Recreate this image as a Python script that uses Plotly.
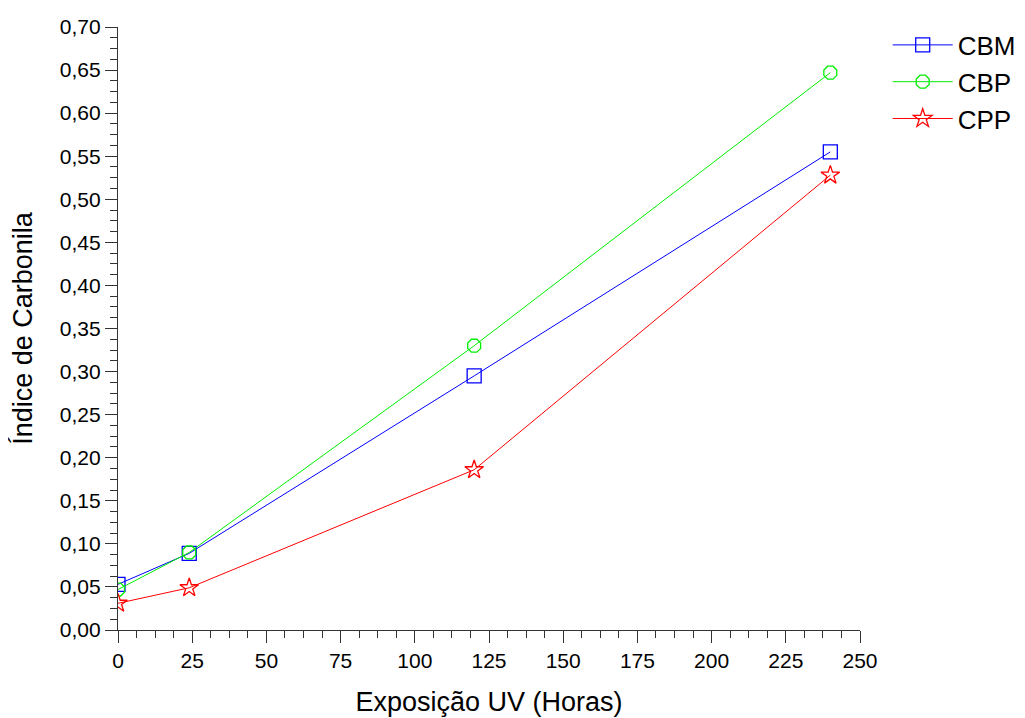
import plotly.graph_objects as go

hours = [0, 24, 120, 240]
cbm = [0.053, 0.089, 0.295, 0.555]
cbp = [0.047, 0.090, 0.330, 0.647]
cpp = [0.031, 0.049, 0.186, 0.528]

series = [
    ("CBM", cbm, "#0000ff", "square-open"),
    ("CBP", cbp, "#00ee00", "octagon-open"),
    ("CPP", cpp, "#ff0000", "star-open"),
]

fig = go.Figure()
for name, vals, color, sym in series:
    fig.add_trace(go.Scatter(
        x=hours, y=vals, name=name, mode="lines+markers",
        line=dict(color=color, width=1),
        marker=dict(symbol=sym, size=14, color=color, line=dict(width=1.3, color=color)),
    ))

fig.update_layout(
    width=1017, height=710,
    margin=dict(l=110, r=165, t=19, b=88, autoexpand=False),
    paper_bgcolor="white", plot_bgcolor="white",
    separators=", ",
    font=dict(family="Liberation Sans, Arial, sans-serif", color="black", size=21),
    showlegend=True,
    legend=dict(xref="container", yref="container", x=0.865, y=0.981,
                xanchor="left", yanchor="top",
                font=dict(size=26), tracegroupgap=0, itemwidth=60,
                bgcolor="rgba(0,0,0,0)"),
    xaxis=dict(
        range=[0, 250], dtick=25, tick0=0, showgrid=False, zeroline=False,
        showline=True, linecolor="#333333", linewidth=1.2, automargin=False,
        ticks="outside", ticklen=12, tickcolor="#333333",
        minor=dict(dtick=6.25, ticks="outside", ticklen=7, tickcolor="#333333", showgrid=False),
        title=dict(text="Exposição UV (Horas)", font=dict(size=27), standoff=20),
        tickfont=dict(size=21),
    ),
    yaxis=dict(
        range=[0, 0.70], dtick=0.05, tick0=0, showgrid=False, zeroline=False,
        showline=True, linecolor="#333333", linewidth=1.2, automargin=False,
        ticks="outside", ticklen=12, tickcolor="#333333", tickformat=".2f",
        minor=dict(dtick=0.0125, ticks="outside", ticklen=7, tickcolor="#333333", showgrid=False),
        title=dict(text="Índice de Carbonila", font=dict(size=27), standoff=22),
        tickfont=dict(size=21),
    ),
)

fig.write_html("out.html")
